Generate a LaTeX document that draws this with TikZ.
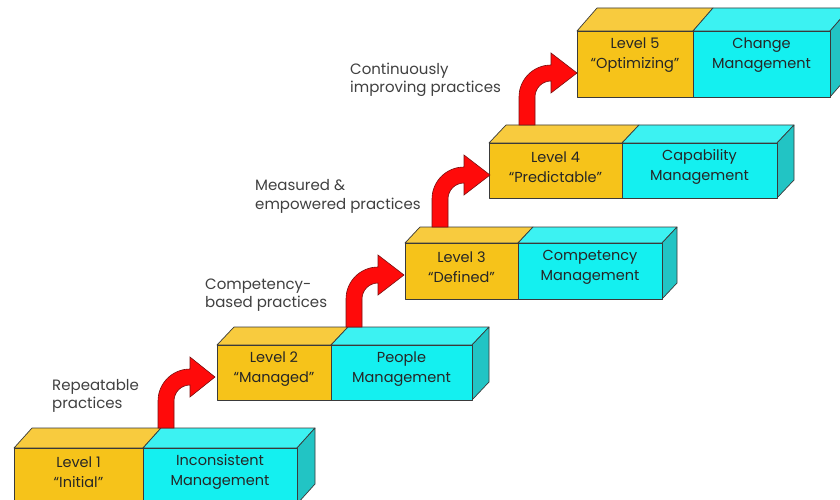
\documentclass[tikz,border=0pt]{standalone}
\usepackage{fontspec}
\setmainfont{Poppins}
\begin{document}
\begin{tikzpicture}[x=1pt,y=-1pt]
\definecolor{goldfront}{HTML}{F6C31A}
\definecolor{goldtop}{HTML}{F8CB3E}
\definecolor{cyanfront}{HTML}{14F0F0}
\definecolor{cyantop}{HTML}{3CF2F2}
\definecolor{cyanside}{HTML}{22C4C4}
\definecolor{edgegray}{HTML}{3A3A3A}
\definecolor{riserred}{HTML}{FF0A0A}
\definecolor{risered}{HTML}{7A1010}
\definecolor{labelgray}{HTML}{404040}
\tikzset{
  face/.style={draw=edgegray, line width=0.7pt, line join=round},
  boxtext/.style={align=center, font=\fontsize{14.5}{20}\selectfont, text=black!85, inner sep=0pt},
  steplabel/.style={align=left, anchor=west, font=\fontsize{15}{18.5}\selectfont, text=labelgray, inner sep=0pt},
  riser/.style={fill=riserred, draw=risered, line width=0.6pt, line join=miter}
}
\useasboundingbox (0,0) rectangle (840,500);
\clip (0,0) rectangle (840,500);
\fill[white] (0,0) rectangle (840,500);

% one level block: #1 id, #2 left x, #3 top y, #4 split x, #5 right x,
% #6 level text, #7 practice text; uses \bh, \bdx, \bdy
\newcommand\levelbox[7]{%
  \fill[goldtop,face] (#2,#3) -- ({#2+\bdx},{#3-\bdy}) -- ({#4+\bdx},{#3-\bdy}) -- (#4,#3) -- cycle;
  \fill[cyantop,face] (#4,#3) -- ({#4+\bdx},{#3-\bdy}) -- ({#5+\bdx},{#3-\bdy}) -- (#5,#3) -- cycle;
  \fill[cyanside,face] (#5,#3) -- ({#5+\bdx},{#3-\bdy}) -- ({#5+\bdx},{#3+\bh-\bdy}) -- (#5,{#3+\bh}) -- cycle;
  \fill[goldfront,face] (#2,#3) rectangle (#4,{#3+\bh});
  \fill[cyanfront,face] (#4,#3) rectangle (#5,{#3+\bh});
  \node[boxtext] (lvl#1) at ({(#2+#4)/2},{#3+24}) {#6};
  \node[boxtext] (mgt#1) at ({(#4+#5)/2},{#3+24}) {#7};
}

% curved step arrow: #1 id, #2 shaft left x, #3 foot y, #4 head mid y, #5 tip x
\newcommand\riserarrow[5]{%
  \coordinate (foot#1) at (#2,#3);
  \coordinate (tip#1) at (#5,#4);
  \draw[riser] (foot#1) -- (#2,{#4+24})
    arc[start angle=180, end angle=270, radius=32]
    -- ({#2+32},{#4-20}) -- (tip#1) -- ({#2+32},{#4+20}) -- ({#2+32},{#4+8})
    arc[start angle=270, end angle=180, radius=16]
    -- ({#2+16},#3) -- cycle;
}

\def\bh{56}\def\bdx{18}\def\bdy{20}
\levelbox{1}{14}{448}{143}{297}{Level 1\\“Initial”}{Inconsistent\\Management}
\def\bh{55}\def\bdx{17}\def\bdy{18}
\levelbox{2}{217}{345}{331}{472}{Level 2\\“Managed”}{People\\Management}
\def\bh{56}\def\bdx{15}\def\bdy{16}
\levelbox{3}{405}{243}{518}{662}{Level 3\\“Defined”}{Competency\\Management}
\def\bh{55}\def\bdx{17}\def\bdy{18}
\levelbox{4}{489}{143}{622}{777}{Level 4\\“Predictable”}{Capability\\Management}
\def\bh{66}\def\bdx{20}\def\bdy{23}
\levelbox{5}{577}{31}{693}{830}{Level 5\\“Optimizing”}{Change\\Management}

\riserarrow{1}{158}{428}{377}{215}
\riserarrow{2}{346}{327}{275}{404}
\riserarrow{3}{432}{227}{175}{490}
\riserarrow{4}{519}{125}{73}{577}

\node[steplabel] (rep) at (52,396) {Repeatable\\practices};
\node[steplabel] (comp) at (205,295) {Competency-\\based practices};
\node[steplabel] (meas) at (255,196.5) {Measured \&\\empowered practices};
\node[steplabel] (cont) at (350,80) {Continuously\\improving practices};
\end{tikzpicture}
\end{document}
